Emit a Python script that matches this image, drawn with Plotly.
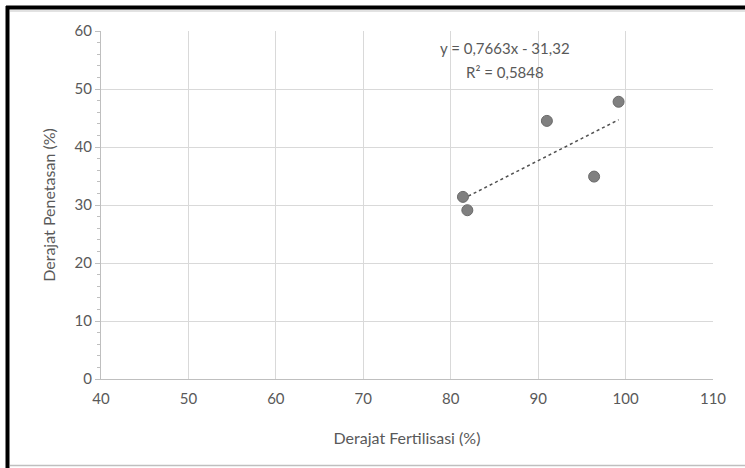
import plotly.graph_objects as go

# Data
fertilisasi = [81.4, 81.9, 91.0, 96.4, 99.2]   # Derajat Fertilisasi (%)
penetasan = [31.4, 29.1, 44.5, 34.9, 47.8]     # Derajat Penetasan (%)
slope = 0.7663
intercept = -31.32
eq_text = "y = 0,7663x - 31,32"
r2_text = "R² = 0,5848"
x_ticks = [40, 50, 60, 70, 80, 90, 100, 110]
y_ticks = [0, 10, 20, 30, 40, 50, 60]

x_min, x_max = min(fertilisasi), max(fertilisasi)
trend_x = [x_min, x_max]
trend_y = [slope * v + intercept for v in trend_x]

W, H = 745, 468
L, R, T, B = 101, 32, 31, 89
pw, ph = W - L - R, H - T - B

def px(x):
    return (x - L) / pw

def py(y):
    return (H - B - y) / ph

font_fam = "Lato, Liberation Sans, Arial, sans-serif"
txt_col = "#595959"

fig = go.Figure()
fig.add_trace(go.Scatter(
    x=trend_x, y=trend_y, mode="lines",
    line=dict(color="#505050", width=1.5, dash="dot"),
    hoverinfo="skip", showlegend=False))
fig.add_trace(go.Scatter(
    x=fertilisasi, y=penetasan, mode="markers",
    marker=dict(size=11, color="#808080", line=dict(color="#6a6a6a", width=1)),
    showlegend=False))

fig.add_annotation(x=px(505), y=py(48), xref="paper", yref="paper",
                   xanchor="center", yanchor="middle",
                   text=eq_text, showarrow=False,
                   font=dict(family=font_fam, size=15, color=txt_col))
fig.add_annotation(x=px(505), y=py(72), xref="paper", yref="paper",
                   xanchor="center", yanchor="middle",
                   text=r2_text, showarrow=False,
                   font=dict(family=font_fam, size=15, color=txt_col))

# Outer frame (screenshot border)
fig.add_shape(type="line", xref="paper", yref="paper",
              x0=px(7.5), x1=px(7.5), y0=py(6), y1=py(470),
              line=dict(color="black", width=4))
fig.add_shape(type="line", xref="paper", yref="paper",
              x0=px(6), x1=px(760), y0=py(7.5), y1=py(7.5),
              line=dict(color="black", width=4))
fig.add_shape(type="line", xref="paper", yref="paper",
              x0=px(10), x1=px(760), y0=py(11), y1=py(11),
              line=dict(color="#d9d9d9", width=1.5))
fig.add_shape(type="line", xref="paper", yref="paper",
              x0=px(10), x1=px(760), y0=py(465.5), y1=py(465.5),
              line=dict(color="#bfbfbf", width=1.5))

fig.update_layout(
    width=W, height=H,
    margin=dict(l=L, r=R, t=T, b=B),
    paper_bgcolor="white", plot_bgcolor="white",
    font=dict(family=font_fam, size=15, color=txt_col),
)
fig.update_xaxes(
    range=[40, 110], tickvals=x_ticks, ticktext=[str(v) for v in x_ticks],
    showgrid=True, gridcolor="#d9d9d9", gridwidth=1,
    showline=True, linecolor="#bfbfbf", linewidth=1, mirror=False,
    ticks="", zeroline=False, automargin=False, ticklabelstandoff=6,
    tickfont=dict(family=font_fam, size=15, color=txt_col),
    title=dict(text="Derajat Fertilisasi (%)", standoff=26,
               font=dict(family=font_fam, size=16, color=txt_col)),
)
fig.update_yaxes(
    range=[0, 60], tickvals=y_ticks, ticktext=[str(v) for v in y_ticks],
    showgrid=True, gridcolor="#d9d9d9", gridwidth=1,
    showline=True, linecolor="#bfbfbf", linewidth=1,
    ticks="outside", ticklen=5, tickcolor="#bfbfbf",
    minor=dict(dtick=2, ticks="outside", ticklen=3, tickcolor="#bfbfbf", showgrid=False),
    zeroline=False, automargin=False,
    tickfont=dict(family=font_fam, size=15, color=txt_col),
    title=dict(text="Derajat Penetasan (%)", standoff=14,
               font=dict(family=font_fam, size=16, color=txt_col)),
)

fig.write_html("out.html", config={"displayModeBar": False},
               post_script="document.body.style.margin='0';document.body.style.overflow='hidden';")
